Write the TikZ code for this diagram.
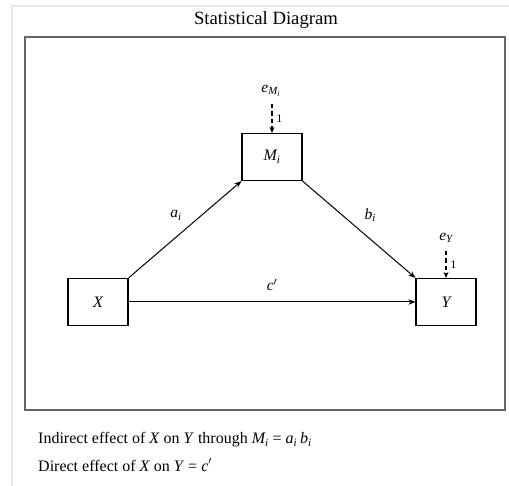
\documentclass[tikz,border=0pt]{standalone}
\usepackage{amsmath}
\usepackage{fontspec}
\setmainfont{Liberation Serif}
\usetikzlibrary{arrows.meta}
\newcommand{\iv}[1]{\textit{#1}}
\begin{document}
\begin{tikzpicture}[x=1pt,y=-1pt,
  varbox/.style={draw=black,line width=1.2pt,minimum width=60pt,minimum height=47pt,inner sep=0pt,font=\fontsize{16}{18}\selectfont},
  path/.style={draw=black,line width=1pt,-{Stealth[length=7pt,width=5.5pt]}},
  errpath/.style={draw=black,line width=1.2pt,dash pattern=on 4.5pt off 3pt,-{Stealth[length=6pt,width=5pt]}},
  lbl/.style={font=\fontsize{15.5}{18}\selectfont,inner sep=1pt},
  small/.style={font=\fontsize{11.5}{13}\selectfont,inner sep=0pt}]
\useasboundingbox (0,0) rectangle (509,486);
% outer light frame
\draw[gray!18,line width=2pt] (12,486) -- (12,6) -- (509,6);
% inner frame
\draw[black!60,line width=1.1pt] (25,37) rectangle (505,410);
\node[font=\fontsize{18.7}{21}\selectfont] (title) at (266,20) {Statistical Diagram};
% nodes
\node[varbox] (M) at (272,157) {$\iv{M}_{\iv{i}}$};
\node[varbox] (X) at (98,302) {$\iv{X}$};
\node[varbox] (Y) at (446,302) {$\iv{Y}$};
\node[lbl] (eM) at (271,91) {$\iv{e}_{\iv{M}_{\iv{i}}}$};
\node[lbl] (eY) at (446,238) {$\iv{e}_{\iv{Y}}$};
\coordinate (eMs) at (272,104);
\coordinate (eYs) at (446,251);
% connectors
\draw[path] (X.north east) -- (M.south west) node[lbl,pos=0.42,yshift=22pt] {$\iv{a}_{\iv{i}}$};
\draw[path] (M.south east) -- (Y.north west) node[lbl,pos=0.6,yshift=24pt] {$\iv{b}_{\iv{i}}$};
\draw[path] (X.east) -- (Y.west) node[lbl,midway,yshift=17pt] {$\iv{c}'$};
\draw[errpath] (eMs) -- (M.north) node[small,midway,right=4pt] {1};
\draw[errpath] (eYs) -- (Y.north) node[small,midway,right=4pt] {1};
% text
\node[anchor=west,font=\fontsize{16}{18}\selectfont,inner sep=0pt] (t1) at (38,440) {Indirect effect of \iv{X} on \iv{Y} through $\iv{M}_{\iv{i}}$ = $\iv{a}_{\iv{i}}\,\iv{b}_{\iv{i}}$};
\node[anchor=west,font=\fontsize{16}{18}\selectfont,inner sep=0pt] (t2) at (38,465) {Direct effect of \iv{X} on \iv{Y} = \iv{c}$'$};
\end{tikzpicture}
\end{document}
